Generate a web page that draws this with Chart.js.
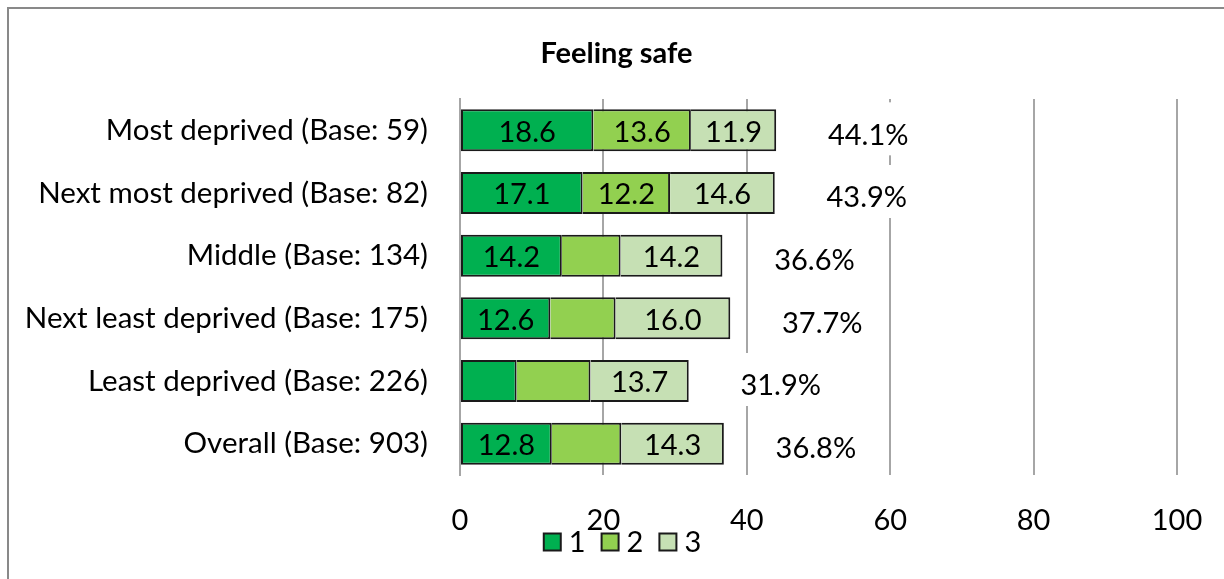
<!DOCTYPE html>
<html>
<head>
<meta charset="utf-8">
<title>Feeling safe</title>
<script src="https://cdn.jsdelivr.net/npm/chart.js@4.4.0/dist/chart.umd.min.js"></script>
<style>
    html, body { margin: 0; padding: 0; background: #fff; }
    .frame {
        position: absolute;
        left: 7px;
        top: 7px;
        width: 1240px;
        height: 600px;
        border-left: 2px solid #898989;
        border-top: 2px solid #898989;
    }
    .frame canvas { display: block; }
</style>
</head>
<body>
<div class="frame">
    <canvas id="safeChart" width="1215" height="570"></canvas>
</div>
<script>
// Deprivation groups
const categories = [
    'Most deprived (Base: 59)',
    'Next most deprived (Base: 82)',
    'Middle (Base: 134)',
    'Next least deprived (Base: 175)',
    'Least deprived (Base: 226)',
    'Overall (Base: 903)'
];

// Percentages for each response level
const level1 = [18.6, 17.1, 14.2, 12.6, 7.9, 12.8];
const level2 = [13.6, 12.2, 8.2, 9.1, 10.3, 9.7];
const level3 = [11.9, 14.6, 14.2, 16.0, 13.7, 14.3];

const seriesNames = ['1', '2', '3'];
const xTicks = [0, 20, 40, 60, 80, 100];

const FONT = 'Lato';
const FONT_SIZE = 29;

document.addEventListener('DOMContentLoaded', () => {
    const totals = categories.map((c, i) => level1[i] + level2[i] + level3[i]);

    // Values inside the segments (the narrow ones are left blank)
    const segmentLabels = {
        id: 'segmentLabels',
        afterDatasetsDraw(chart) {
            const ctx = chart.ctx;
            ctx.save();
            ctx.font = FONT_SIZE + 'px ' + FONT;
            ctx.fillStyle = '#000';
            ctx.textAlign = 'center';
            ctx.textBaseline = 'middle';
            chart.data.datasets.forEach((ds, di) => {
                const meta = chart.getDatasetMeta(di);
                meta.data.forEach((bar, i) => {
                    const v = ds.data[i];
                    if (v < 11) return;
                    const p = bar.getCenterPoint();
                    ctx.fillText(v.toFixed(1), p.x, p.y + 2);
                });
            });
            ctx.restore();
        }
    };

    // Total percentage to the right of each bar, on a white box
    const totalLabels = {
        id: 'totalLabels',
        afterDatasetsDraw(chart) {
            const ctx = chart.ctx;
            const xs = chart.scales.x;
            const ys = chart.scales.y;
            ctx.save();
            ctx.font = FONT_SIZE + 'px ' + FONT;
            ctx.textAlign = 'center';
            ctx.textBaseline = 'middle';
            totals.forEach((t, i) => {
                const text = t.toFixed(1) + '%';
                const cx = xs.getPixelForValue(t) + 92;
                const cy = ys.getPixelForValue(i);
                const w = ctx.measureText(text).width + 14;
                ctx.fillStyle = '#fff';
                ctx.fillRect(cx - w / 2, cy - 28, w, 53);
                ctx.fillStyle = '#000';
                ctx.fillText(text, cx, cy + 5);
            });
            ctx.restore();
        }
    };

    // Legend row under the tick labels
    const bottomLegend = {
        id: 'bottomLegend',
        afterDraw(chart) {
            const ctx = chart.ctx;
            const box = 17, gapText = 8, gapItem = 16;
            const cy = chart.scales.x.top + 67;
            ctx.save();
            ctx.font = FONT_SIZE + 'px ' + FONT;
            ctx.textBaseline = 'middle';
            const items = chart.data.datasets.map(ds => ({
                text: ds.label,
                color: ds.backgroundColor,
                w: ctx.measureText(ds.label).width
            }));
            const total = items.reduce((s, it) => s + box + gapText + it.w, 0) + gapItem * (items.length - 1);
            let x = chart.width / 2 + 6 - total / 2;
            items.forEach(it => {
                ctx.fillStyle = it.color;
                ctx.fillRect(x, cy - box / 2, box, box);
                ctx.strokeStyle = '#1a1a1a';
                ctx.lineWidth = 2;
                ctx.strokeRect(x, cy - box / 2, box, box);
                ctx.fillStyle = '#000';
                ctx.fillText(it.text, x + box + gapText, cy + 1);
                x += box + gapText + it.w + gapItem;
            });
            ctx.restore();
        }
    };

    const colors = ['#00B050', '#92D050', '#C6E0B4'];
    const values = [level1, level2, level3];

    const datasets = values.map((data, k) => ({
        label: seriesNames[k],
        data: data,
        backgroundColor: colors[k],
        borderColor: '#1a1a1a',
        borderWidth: 2,
        borderSkipped: k === 0 ? false : 'start',
        barPercentage: 0.67,
        categoryPercentage: 1.0
    }));

    new Chart(document.getElementById('safeChart'), {
        type: 'bar',
        data: { labels: categories, datasets: datasets },
        plugins: [segmentLabels, totalLabels, bottomLegend],
        options: {
            indexAxis: 'y',
            responsive: false,
            animation: false,
            layout: { padding: 0 },
            scales: {
                x: {
                    stacked: true,
                    min: 0,
                    max: 100,
                    afterBuildTicks: (s) => { s.ticks = xTicks.map(v => ({ value: v })); },
                    afterFit: (s) => { s.height = 104; },
                    // invisible tick marks push the labels down
                    grid: {
                        color: '#a6a6a6',
                        lineWidth: 2,
                        drawTicks: true,
                        tickLength: 28,
                        tickColor: 'rgba(0,0,0,0)'
                    },
                    border: { display: false },
                    ticks: {
                        color: '#000',
                        padding: 0,
                        font: { family: FONT, size: FONT_SIZE }
                    }
                },
                y: {
                    stacked: true,
                    afterFit: (s) => { s.width = 451; },
                    grid: { display: false, drawTicks: false },
                    border: { display: true, color: '#a6a6a6', width: 2 },
                    ticks: {
                        color: '#000',
                        padding: 32,
                        font: { family: FONT, size: 29.5 }
                    }
                },
                // keeps a gap on the right without shifting the title
                gap: {
                    type: 'linear',
                    position: 'right',
                    display: true,
                    afterFit: (s) => { s.width = 47; },
                    grid: { display: false, drawTicks: false },
                    border: { display: false },
                    ticks: { display: false }
                }
            },
            plugins: {
                title: {
                    display: true,
                    text: 'Feeling safe',
                    color: '#000',
                    font: { family: FONT, size: 29, weight: 'bold' },
                    padding: { top: 27, bottom: 28.2 }
                },
                legend: { display: false },
                tooltip: { enabled: false }
            }
        }
    });
});
</script>
</body>
</html>
